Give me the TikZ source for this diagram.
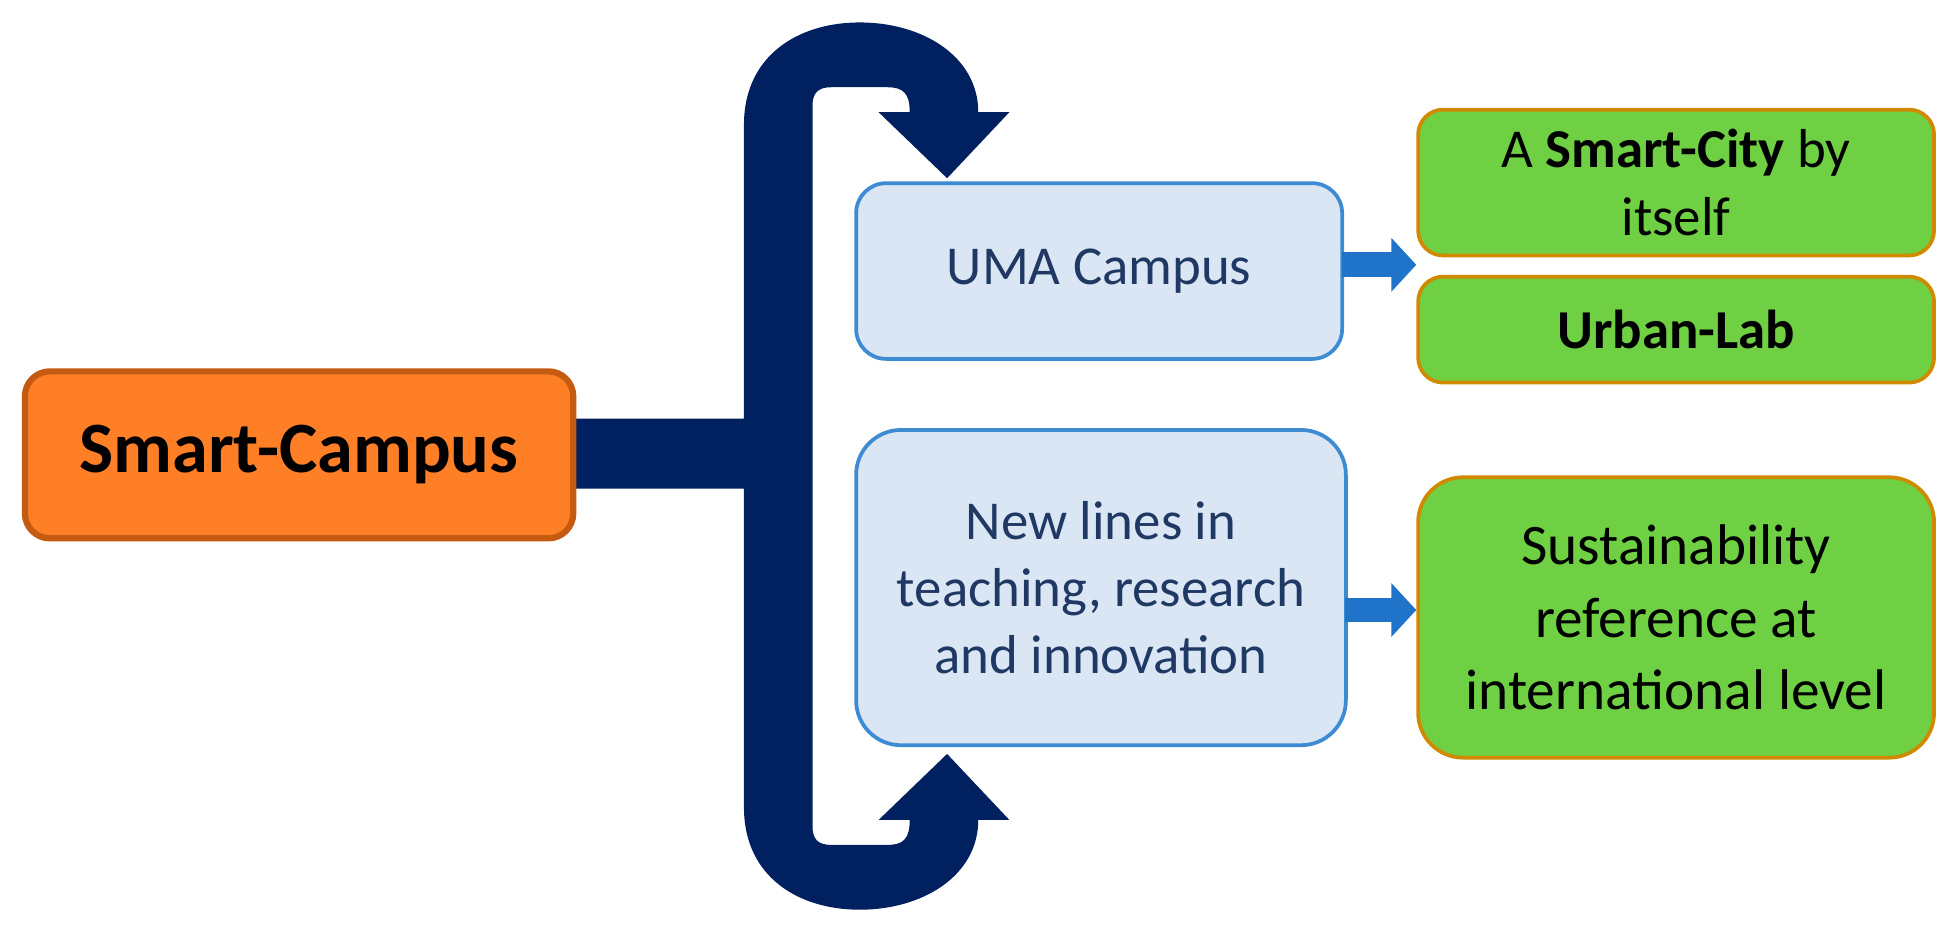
\documentclass[tikz,border=0pt]{standalone}
\usepackage{fontspec}
\setmainfont{Carlito}
\usetikzlibrary{arrows.meta}
\definecolor{navy}{HTML}{002060}
\definecolor{lblue}{HTML}{DAE6F3}
\definecolor{bblue}{HTML}{3D8BD3}
\definecolor{tblue}{HTML}{1F3864}
\definecolor{gfill}{HTML}{6FD043}
\definecolor{gborder}{HTML}{D08A00}
\definecolor{ofill}{HTML}{FF7F27}
\definecolor{oborder}{HTML}{C55A11}
\definecolor{arr}{HTML}{1F73C8}
\tikzset{
 base/.style={draw, line width=1.5pt, align=center, inner sep=0pt},
 bluebox/.style={base, fill=lblue, draw=bblue, text=tblue, font=\fontsize{22}{27}\selectfont},
 greenbox/.style={base, fill=gfill, draw=gborder, text=black, font=\fontsize{22}{27}\selectfont},
 link/.style={arr, line width=10pt, -{Triangle[width=21pt,length=10pt]}, shorten <=-1pt}
}
\begin{document}
\begin{tikzpicture}[x=0.5pt,y=-0.5pt]
\useasboundingbox (0,0) rectangle (1568,750);
\fill[navy] (597,336) -- (597,100) .. controls (597,45) and (640,18) .. (690,18)
 .. controls (740,18) and (785,45) .. (785,90) -- (810,90) -- (760,143) -- (705,90) -- (730,90)
 .. controls (730,75) and (725,70) .. (712,70) -- (667,70) .. controls (656,70) and (652,75) .. (652,85)
 -- (652,663) .. controls (652,673) and (656,678) .. (667,678) -- (712,678)
 .. controls (725,678) and (730,673) .. (730,658) -- (705,658) -- (760,605) -- (810,658) -- (785,658)
 .. controls (785,703) and (740,730) .. (690,730) .. controls (640,730) and (597,703) .. (597,648)
 -- (597,392) -- (458,392) -- (458,336) -- cycle;
\node[base, fill=ofill, draw=oborder, line width=2.5pt, rounded corners=10pt, minimum width=220pt, minimum height=67pt, font=\fontsize{29}{34}\selectfont\bfseries] (sc) at (240,365) {Smart-Campus};
\node[bluebox, rounded corners=12pt, minimum width=195pt, minimum height=70.5pt] (uma) at (882,217.5) {UMA Campus};
\node[bluebox, rounded corners=18pt, minimum width=196.5pt, minimum height=126.5pt] (new) at (883.5,471.5) {New lines in\\teaching, research\\and innovation};
\node[greenbox, rounded corners=10pt, minimum width=207pt, minimum height=58.5pt] (g1) at (1345,146.5) {A \textbf{Smart-City} by\\itself};
\node[greenbox, rounded corners=10pt, minimum width=207pt, minimum height=42.5pt, font=\fontsize{22}{27}\selectfont\bfseries] (g2) at (1345,264.5) {Urban-Lab};
\node[greenbox, rounded corners=18pt, minimum width=207pt, minimum height=112.5pt, font=\fontsize{23}{29}\selectfont] (g3) at (1345,495.5) {Sustainability\\reference at\\international level};
\draw[link] (uma.east) ++(0,-5) coordinate (u1) -- (u1 -| g1.west);
\draw[link] (new.east) ++(0,18) coordinate (n1) -- (n1 -| g3.west);
\end{tikzpicture}
\end{document}
